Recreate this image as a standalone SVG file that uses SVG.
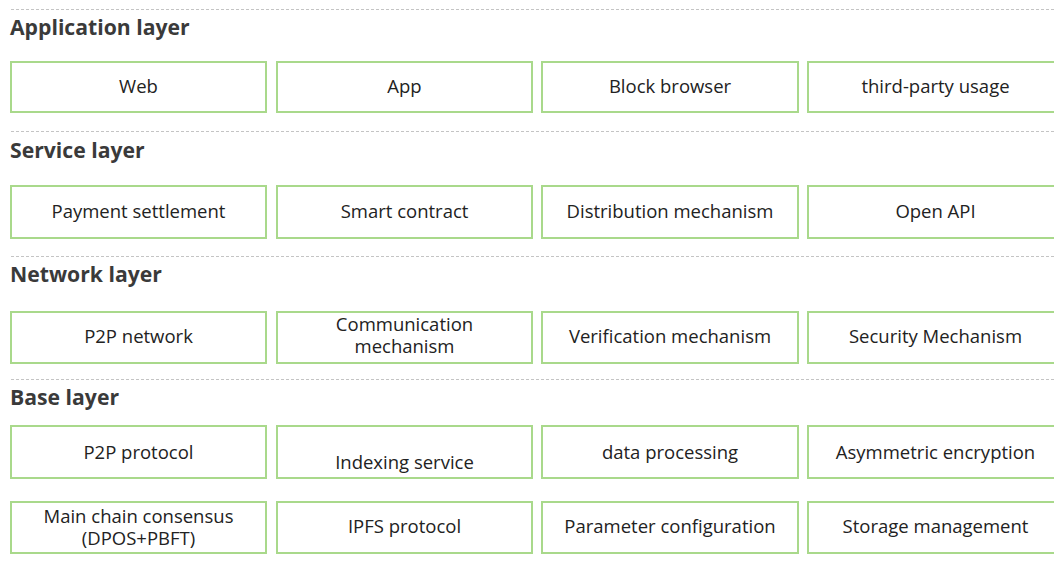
<svg xmlns="http://www.w3.org/2000/svg" width="1054" height="565" viewBox="0 0 1054 565">
<style>
  .bg{fill:#ffffff}
  .sep{stroke:#c4c4c4;stroke-width:1;stroke-dasharray:3 2;fill:none}
  .hdr{font-family:"Open Sans","Noto Sans","Liberation Sans",sans-serif;font-weight:700;font-size:21.2px;fill:#3a3a3a}
  .box{fill:#ffffff;stroke:#a9d98b;stroke-width:2}
  .lbl{font-family:"Open Sans","Noto Sans","Liberation Sans",sans-serif;font-size:18.5px;fill:#222222;text-anchor:middle}
</style>
<rect class="bg" x="0" y="0" width="1054" height="565"/>
<g id="connectors">
  <line class="sep" x1="11" y1="9.5" x2="1054" y2="9.5"/>
  <line class="sep" x1="11" y1="131.5" x2="1054" y2="131.5"/>
  <line class="sep" x1="11" y1="256.5" x2="1054" y2="256.5"/>
  <line class="sep" x1="11" y1="379.5" x2="1054" y2="379.5"/>
</g>
<g id="headers">
  <text class="hdr" x="10" y="35">Application layer</text>
  <text class="hdr" x="10" y="157.5">Service layer</text>
  <text class="hdr" x="10" y="282">Network layer</text>
  <text class="hdr" x="10" y="405">Base layer</text>
</g>
<g id="app-web"><rect class="box" x="11" y="62" width="255" height="50"/><text class="lbl" x="138.5" y="93">Web</text></g>
<g id="app-app"><rect class="box" x="277" y="62" width="255" height="50"/><text class="lbl" x="404.5" y="93">App</text></g>
<g id="app-browser"><rect class="box" x="542" y="62" width="256" height="50"/><text class="lbl" x="670" y="93">Block browser</text></g>
<g id="app-third"><rect class="box" x="808" y="62" width="260" height="50"/><text class="lbl" x="935.5" y="93">third-party usage</text></g>

<g id="svc-payment"><rect class="box" x="11" y="186" width="255" height="52"/><text class="lbl" x="138.5" y="217.5">Payment settlement</text></g>
<g id="svc-contract"><rect class="box" x="277" y="186" width="255" height="52"/><text class="lbl" x="404.5" y="217.5">Smart contract</text></g>
<g id="svc-distribution"><rect class="box" x="542" y="186" width="256" height="52"/><text class="lbl" x="670" y="217.5">Distribution mechanism</text></g>
<g id="svc-api"><rect class="box" x="808" y="186" width="260" height="52"/><text class="lbl" x="935.5" y="217.5">Open API</text></g>

<g id="net-p2p"><rect class="box" x="11" y="312" width="255" height="51"/><text class="lbl" x="138.5" y="343">P2P network</text></g>
<g id="net-comm"><rect class="box" x="277" y="312" width="255" height="51"/><text class="lbl" x="404.5" y="330.5">Communication</text><text class="lbl" x="404.5" y="352.5">mechanism</text></g>
<g id="net-verif"><rect class="box" x="542" y="312" width="256" height="51"/><text class="lbl" x="670" y="343">Verification mechanism</text></g>
<g id="net-sec"><rect class="box" x="808" y="312" width="260" height="51"/><text class="lbl" x="935.5" y="343">Security Mechanism</text></g>

<g id="base-p2p"><rect class="box" x="11" y="426" width="255" height="52"/><text class="lbl" x="138.5" y="458.5">P2P protocol</text></g>
<g id="base-index"><rect class="box" x="277" y="426" width="255" height="52"/><text class="lbl" x="404.5" y="468.5">Indexing service</text></g>
<g id="base-data"><rect class="box" x="542" y="426" width="256" height="52"/><text class="lbl" x="670" y="458.5">data processing</text></g>
<g id="base-asym"><rect class="box" x="808" y="426" width="260" height="52"/><text class="lbl" x="935.5" y="458.5">Asymmetric encryption</text></g>

<g id="base-consensus"><rect class="box" x="11" y="502" width="255" height="51"/><text class="lbl" x="138.5" y="522.5">Main chain consensus</text><text class="lbl" x="138.5" y="544.5">(DPOS+PBFT)</text></g>
<g id="base-ipfs"><rect class="box" x="277" y="502" width="255" height="51"/><text class="lbl" x="404.5" y="533">IPFS protocol</text></g>
<g id="base-param"><rect class="box" x="542" y="502" width="256" height="51"/><text class="lbl" x="670" y="533">Parameter configuration</text></g>
<g id="base-storage"><rect class="box" x="808" y="502" width="260" height="51"/><text class="lbl" x="935.5" y="533">Storage management</text></g>
</svg>
